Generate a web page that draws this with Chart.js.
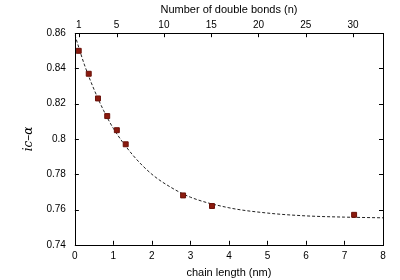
<!DOCTYPE html>
<html>
<head>
<meta charset="utf-8">
<script src="https://cdn.jsdelivr.net/npm/chart.js@4"></script>
<style>
html,body{margin:0;padding:0;background:#fff;}
#wrap{width:400px;height:280px;position:relative;}
</style>
</head>
<body>
<div id="wrap"><canvas id="c" width="400" height="280"></canvas></div>
<script>
// measured points
const chainLength = [0.10, 0.36, 0.60, 0.84, 1.09, 1.32, 2.81, 3.56, 7.25];
const icAlpha     = [0.850, 0.837, 0.823, 0.813, 0.805, 0.797, 0.768, 0.762, 0.757];
// dashed fit curve
const fitLength = [0, 0.25, 0.5, 0.75, 1, 1.5, 2, 2.5, 3, 4, 5, 6, 7, 8];
const fitValue  = [0.859, 0.842, 0.828, 0.816, 0.806, 0.791, 0.780, 0.7725, 0.767, 0.761, 0.758, 0.7564, 0.7557, 0.7553];
// tick labels
const bottomTicks = [0, 1, 2, 3, 4, 5, 6, 7, 8];
const leftTicks = [0.74, 0.76, 0.78, 0.80, 0.82, 0.84, 0.86];
const topTicks = [1, 5, 10, 15, 20, 25, 30];

const tickFont = {family: "'Liberation Sans', Arial, sans-serif", size: 10};
const titleFont = {family: "'Liberation Sans', Arial, sans-serif", size: 11};

const frameTicks = {
  id: 'frameTicks',
  afterDatasetsDraw(chart) {
    const {ctx, chartArea: a, scales} = chart;
    ctx.save();
    ctx.strokeStyle = '#000';
    ctx.lineWidth = 1;
    ctx.strokeRect(Math.round(a.left)+0.5, Math.round(a.top)+0.5, Math.round(a.right-a.left), Math.round(a.bottom-a.top));
    const L = 4;
    ctx.beginPath();
    scales.x.ticks.forEach(t => {
      const px = Math.round(scales.x.getPixelForValue(t.value)) + 0.5;
      ctx.moveTo(px, a.bottom); ctx.lineTo(px, a.bottom - L);
    });
    scales.x2.ticks.forEach(t => {
      const px = Math.round(scales.x2.getPixelForValue(t.value)) + 0.5;
      ctx.moveTo(px, a.top); ctx.lineTo(px, a.top + L);
    });
    scales.y.ticks.forEach(t => {
      const py = Math.round(scales.y.getPixelForValue(t.value)) + 0.5;
      ctx.moveTo(a.left, py); ctx.lineTo(a.left + L, py);
      ctx.moveTo(a.right, py); ctx.lineTo(a.right - L, py);
    });
    ctx.stroke();
    ctx.restore();
  }
};

new Chart(document.getElementById('c'), {
  type: 'scatter',
  data: {
    datasets: [
      {
        type: 'line',
        data: fitLength.map((x, i) => ({x, y: fitValue[i]})),
        borderColor: '#222',
        borderWidth: 1,
        borderDash: [3, 2],
        pointRadius: 0,
        cubicInterpolationMode: 'monotone',
        fill: false,
        order: 2
      },
      {
        data: chainLength.map((x, i) => ({x, y: icAlpha[i]})),
        pointStyle: 'rect',
        pointRadius: 3.5,
        backgroundColor: '#8b1a0e',
        borderColor: '#6a120a',
        borderWidth: 1,
        order: 1
      }
    ]
  },
  options: {
    responsive: false,
    animation: false,
    layout: {padding: {left: 22, right: 17, top: 3, bottom: 0}},
    plugins: {legend: {display: false}, tooltip: {enabled: false}},
    scales: {
      x: {
        type: 'linear', position: 'bottom', min: 0, max: 8,
        afterBuildTicks: s => { s.ticks = bottomTicks.map(v => ({value: v})); },
        grid: {display: false, drawTicks: false},
        border: {display: false},
        ticks: {font: tickFont, color: '#000', padding: 5, maxRotation: 0},
        title: {display: true, text: 'chain length (nm)', font: titleFont, color: '#000', padding: {top: 0, bottom: 0}}
      },
      x2: {
        type: 'linear', position: 'top', min: 0.58, max: 33.17,
        afterBuildTicks: s => { s.ticks = topTicks.map(v => ({value: v})); },
        grid: {display: false, drawTicks: false},
        border: {display: false},
        ticks: {font: tickFont, color: '#000', padding: 2, maxRotation: 0},
        title: {display: true, text: 'Number of double bonds (n)', font: titleFont, color: '#000', padding: {top: 0, bottom: 1}}
      },
      y: {
        type: 'linear', min: 0.74, max: 0.86,
        afterBuildTicks: s => { s.ticks = leftTicks.map(v => ({value: v})); },
        grid: {display: false, drawTicks: false},
        border: {display: false},
        ticks: {font: tickFont, color: '#000', padding: 9, callback: v => String(+v.toFixed(2))},
        title: {display: true, text: 'ic–α', font: {family: "'DejaVu Serif', serif", size: 12, style: 'italic'}, color: '#000', padding: {top: 0, bottom: 1}}
      }
    }
  },
  plugins: [frameTicks]
});
</script>
</body>
</html>
